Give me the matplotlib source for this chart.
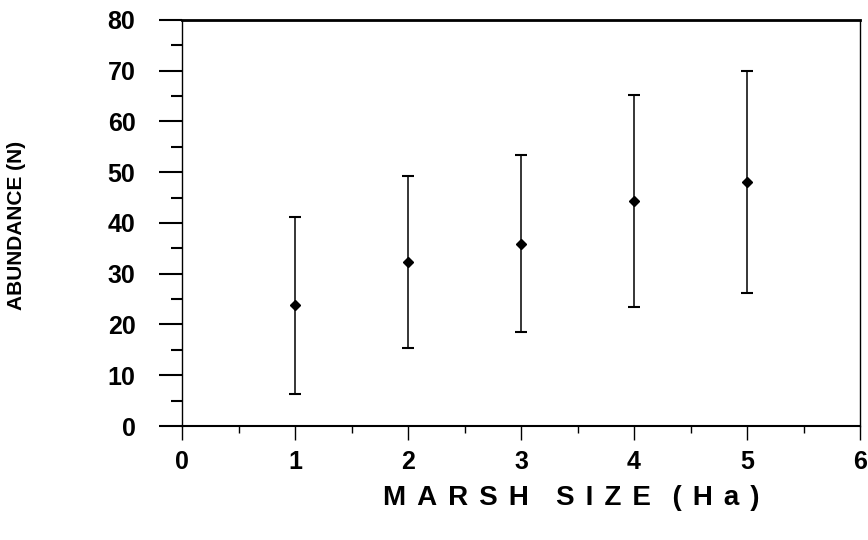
import matplotlib
matplotlib.use("Agg")
import matplotlib.pyplot as plt
from matplotlib.ticker import MultipleLocator

marsh_size = [1, 2, 3, 4, 5]
abundance = [23.8, 32.4, 35.8, 44.4, 48.0]
upper = [41.1, 49.3, 53.3, 65.2, 69.9]
lower = [6.3, 15.3, 18.6, 23.4, 26.3]

x_ticks = [0, 1, 2, 3, 4, 5, 6]
y_ticks = [0, 10, 20, 30, 40, 50, 60, 70, 80]

plt.rcParams['font.family'] = ['Liberation Sans', 'DejaVu Sans']
plt.rcParams['font.weight'] = 'bold'

fig = plt.figure(figsize=(8.68, 5.4), dpi=100)
ax = fig.add_axes([0.2097, 0.2111, 0.7811, 0.7519])

yerr = [[a - l for a, l in zip(abundance, lower)],
        [u - a for a, u in zip(abundance, upper)]]
ax.errorbar(marsh_size, abundance, yerr=yerr, fmt='D', color='black',
            markersize=5, elinewidth=1.1, capsize=4.3, capthick=1.5)

ax.set_xlim(0, 6)
ax.set_ylim(0, 80)
ax.set_xticks(x_ticks)
ax.set_yticks(y_ticks)
ax.xaxis.set_minor_locator(MultipleLocator(0.5))
ax.yaxis.set_minor_locator(MultipleLocator(5))

ax.tick_params(axis='y', which='major', direction='out', length=16.5, width=1.5,
               pad=17, labelsize=18)
ax.tick_params(axis='y', which='minor', direction='out', length=8, width=1.5)
ax.tick_params(axis='x', which='major', direction='out', length=10, width=1,
               pad=7, labelsize=18)
ax.tick_params(axis='x', which='minor', direction='out', length=5, width=1)
ax.tick_params(top=False, right=False, which='both')

for lab in ax.get_xticklabels() + ax.get_yticklabels():
    lab.set_fontweight('bold')

ax.spines['top'].set_linewidth(2)
ax.spines['left'].set_linewidth(1)
ax.spines['bottom'].set_linewidth(1.5)
ax.spines['right'].set_linewidth(1)

ts = '\u2009\u2009'
xlabel = ts.join('MARSH') + ' \u2002\u2009' + ts.join('SIZE') + ' \u2002' + ts.join('(Ha)')
ax.set_xlabel(xlabel, fontsize=20, fontweight='bold')
ax.xaxis.label.set_va('center')
ax.xaxis.set_label_coords(0.574, -0.178)

ax.set_ylabel('ABUNDANCE (N)', fontsize=15, fontweight='bold')
ax.yaxis.label.set_va('center')
ax.yaxis.set_label_coords(-0.244, 0.495)

fig.savefig('out.png', dpi=100)
